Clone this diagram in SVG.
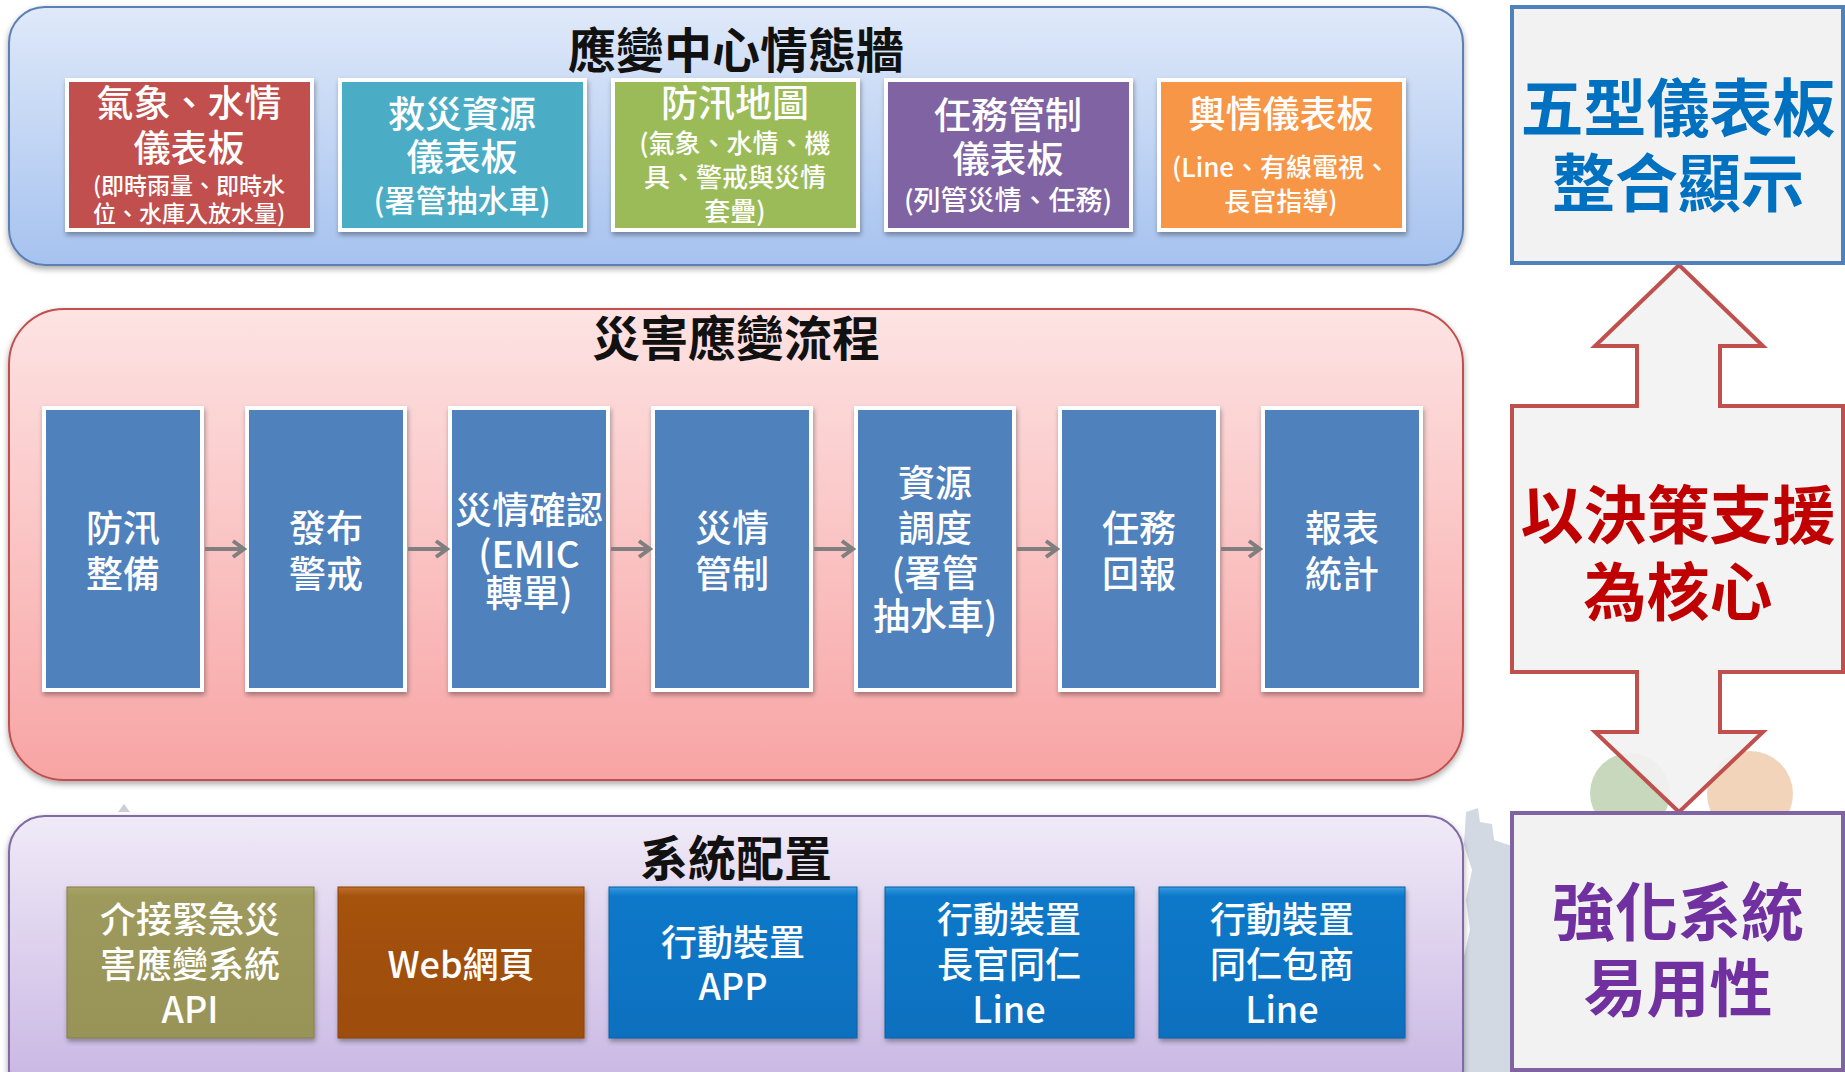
<svg xmlns="http://www.w3.org/2000/svg" width="1845" height="1072" viewBox="0 0 1845 1072">
<defs>
<style>
text{font-family:"Noto Sans CJK TC","Noto Sans CJK SC",sans-serif;text-anchor:middle;dominant-baseline:central}
.h{font-size:48px;font-weight:bold;fill:#111}
.w{fill:#fff;font-weight:500}
.big{font-size:37px}
.flow{font-size:37px;fill:#fff;font-weight:500}
.sys{font-size:36px;fill:#fff;font-weight:500}
.side{font-size:63px;font-weight:bold}
.fbox{fill:#4f81bd;stroke:#fff;stroke-width:4}
.tbox{stroke:#fff;stroke-width:4}
.conn{stroke:#7f7f7f;stroke-width:4;fill:none}
</style>
<linearGradient id="gBlue" x1="0" y1="0" x2="0" y2="1"><stop offset="0" stop-color="#dfe9f9"/><stop offset="1" stop-color="#a6c2ef"/></linearGradient>
<linearGradient id="gPink" x1="0" y1="0" x2="0" y2="1"><stop offset="0" stop-color="#fde3e3"/><stop offset="1" stop-color="#f8a4a4"/></linearGradient>
<linearGradient id="gPurp" x1="0" y1="0" x2="0" y2="1"><stop offset="0" stop-color="#f0eaf7"/><stop offset="1" stop-color="#c6b3e2"/></linearGradient>
<linearGradient id="gOlive" x1="0" y1="0" x2="0" y2="1"><stop offset="0" stop-color="#a9a469"/><stop offset="0.06" stop-color="#9e9a5c"/><stop offset="1" stop-color="#989358"/></linearGradient>
<linearGradient id="gBrown" x1="0" y1="0" x2="0" y2="1"><stop offset="0" stop-color="#c0702c"/><stop offset="0.06" stop-color="#a5520e"/><stop offset="1" stop-color="#9d4d0c"/></linearGradient>
<linearGradient id="gSysBlue" x1="0" y1="0" x2="0" y2="1"><stop offset="0" stop-color="#3a9ae0"/><stop offset="0.06" stop-color="#0b78c9"/><stop offset="1" stop-color="#0a70bf"/></linearGradient>
<filter id="sh" x="-5%" y="-5%" width="110%" height="115%"><feDropShadow dx="0" dy="3" stdDeviation="3" flood-color="#000" flood-opacity="0.35"/></filter>
<filter id="bsh" x="-5%" y="-5%" width="110%" height="115%"><feDropShadow dx="1" dy="3" stdDeviation="2.5" flood-color="#000" flood-opacity="0.35"/></filter>
<marker id="arr" markerUnits="userSpaceOnUse" markerWidth="18" markerHeight="22" refX="15" refY="11" orient="auto"><path d="M4,3 L15,11 L4,19" fill="none" stroke="#7f7f7f" stroke-width="4"/></marker>
</defs>
<rect width="1845" height="1072" fill="#fff"/>

<!-- background decorations -->
<g id="decor">
<path d="M1466,812 L1478,808 L1480,822 L1492,824 L1494,840 L1512,846 L1512,1072 L1463,1072 L1463,960 L1470,930 L1466,900 L1472,870 L1464,845 Z" fill="#d3d9e3"/>
<path d="M118,812 L124,804 L130,812 Z" fill="#c9ced9"/>
<circle cx="1630" cy="793" r="40" fill="#c2d4b6" opacity="0.9"/>
<circle cx="1750" cy="794" r="43" fill="#f1cfb2" opacity="0.9"/>
</g>

<!-- Layer 1 -->
<g id="panel-wall">
<rect x="9" y="7" width="1454" height="258" rx="36" fill="url(#gBlue)" stroke="#5b7fb5" stroke-width="2" filter="url(#sh)"/>
<text class="h" x="736" y="47">應變中心情態牆</text>
</g>
<g id="dash-weather">
<rect class="tbox" x="67" y="80" width="245" height="150" fill="#c0504d" filter="url(#bsh)"/>
<text class="w big" x="189" y="101">氣象、水情</text>
<text class="w big" x="189" y="146">儀表板</text>
<text class="w" x="189" y="184" font-size="23">(即時雨量、即時水</text>
<text class="w" x="189" y="212" font-size="23">位、水庫入放水量)</text>
</g>
<g id="dash-resource">
<rect class="tbox" x="340" y="80" width="245" height="150" fill="#4bacc6" filter="url(#bsh)"/>
<text class="w big" x="462" y="112">救災資源</text>
<text class="w big" x="462" y="155">儀表板</text>
<text class="w" x="462" y="198" font-size="31">(署管抽水車)</text>
</g>
<g id="dash-map">
<rect class="tbox" x="613" y="80" width="245" height="150" fill="#9bbb59" filter="url(#bsh)"/>
<text class="w big" x="735" y="101">防汛地圖</text>
<text class="w" x="735" y="141" font-size="26">(氣象、水情、機</text>
<text class="w" x="735" y="175" font-size="26">具、警戒與災情</text>
<text class="w" x="735" y="209" font-size="26">套疊)</text>
</g>
<g id="dash-task">
<rect class="tbox" x="886" y="80" width="245" height="150" fill="#8064a2" filter="url(#bsh)"/>
<text class="w big" x="1008" y="113">任務管制</text>
<text class="w big" x="1008" y="157">儀表板</text>
<text class="w" x="1008" y="198" font-size="27">(列管災情、任務)</text>
</g>
<g id="dash-opinion">
<rect class="tbox" x="1159" y="80" width="245" height="150" fill="#f79646" filter="url(#bsh)"/>
<text class="w big" x="1281" y="112">輿情儀表板</text>
<text class="w" x="1281" y="165" font-size="26">(Line、有線電視、</text>
<text class="w" x="1281" y="199" font-size="26">長官指導)</text>
</g>

<!-- Layer 2 -->
<g id="panel-flow">
<rect x="9" y="309" width="1454" height="471" rx="55" fill="url(#gPink)" stroke="#c0504d" stroke-width="2" filter="url(#sh)"/>
<text class="h" x="736" y="335">災害應變流程</text>
</g>
<g id="flow-1"><rect class="fbox" x="44" y="408" width="158" height="282" filter="url(#bsh)"/><text class="flow" x="123" y="526">防汛</text><text class="flow" x="123" y="572">整備</text></g>
<g id="flow-2"><rect class="fbox" x="247" y="408" width="158" height="282" filter="url(#bsh)"/><text class="flow" x="326" y="526">發布</text><text class="flow" x="326" y="572">警戒</text></g>
<g id="flow-3"><rect class="fbox" x="450" y="408" width="158" height="282" filter="url(#bsh)"/><text class="flow" x="529" y="508" font-size="36">災情確認</text><text class="flow" x="529" y="552">(EMIC</text><text class="flow" x="529" y="591">轉單)</text></g>
<g id="flow-4"><rect class="fbox" x="653" y="408" width="158" height="282" filter="url(#bsh)"/><text class="flow" x="732" y="526">災情</text><text class="flow" x="732" y="572">管制</text></g>
<g id="flow-5"><rect class="fbox" x="856" y="408" width="158" height="282" filter="url(#bsh)"/><text class="flow" x="935" y="481">資源</text><text class="flow" x="935" y="526">調度</text><text class="flow" x="935" y="571">(署管</text><text class="flow" x="935" y="614">抽水車)</text></g>
<g id="flow-6"><rect class="fbox" x="1060" y="408" width="158" height="282" filter="url(#bsh)"/><text class="flow" x="1139" y="526">任務</text><text class="flow" x="1139" y="572">回報</text></g>
<g id="flow-7"><rect class="fbox" x="1263" y="408" width="158" height="282" filter="url(#bsh)"/><text class="flow" x="1342" y="526">報表</text><text class="flow" x="1342" y="572">統計</text></g>

<g id="connectors">
<path class="conn" d="M205,549 H244" marker-end="url(#arr)"/>
<path class="conn" d="M408,549 H447" marker-end="url(#arr)"/>
<path class="conn" d="M611,549 H650" marker-end="url(#arr)"/>
<path class="conn" d="M814,549 H853" marker-end="url(#arr)"/>
<path class="conn" d="M1017,549 H1057" marker-end="url(#arr)"/>
<path class="conn" d="M1221,549 H1260" marker-end="url(#arr)"/>
</g>

<!-- Layer 3 -->
<g id="panel-sys">
<rect x="9" y="816" width="1454" height="290" rx="36" fill="url(#gPurp)" stroke="#7f6aa6" stroke-width="2" filter="url(#sh)"/>
<text class="h" x="736" y="855">系統配置</text>
</g>
<g id="sys-api"><rect x="67" y="887" width="247" height="151" fill="url(#gOlive)" stroke="#857f48" stroke-width="1" filter="url(#bsh)"/><text class="sys" x="190" y="917">介接緊急災</text><text class="sys" x="190" y="962">害應變系統</text><text class="sys" x="190" y="1007">API</text></g>
<g id="sys-web"><rect x="338" y="887" width="246" height="151" fill="url(#gBrown)" stroke="#8a440a" stroke-width="1" filter="url(#bsh)"/><text class="sys" x="461" y="962">Web網頁</text></g>
<g id="sys-app"><rect x="609" y="887" width="248" height="151" fill="url(#gSysBlue)" stroke="#0860a6" stroke-width="1" filter="url(#bsh)"/><text class="sys" x="733" y="940">行動裝置</text><text class="sys" x="733" y="984">APP</text></g>
<g id="sys-line1"><rect x="885" y="887" width="249" height="151" fill="url(#gSysBlue)" stroke="#0860a6" stroke-width="1" filter="url(#bsh)"/><text class="sys" x="1009" y="917">行動裝置</text><text class="sys" x="1009" y="962">長官同仁</text><text class="sys" x="1009" y="1007">Line</text></g>
<g id="sys-line2"><rect x="1159" y="887" width="246" height="151" fill="url(#gSysBlue)" stroke="#0860a6" stroke-width="1" filter="url(#bsh)"/><text class="sys" x="1282" y="917">行動裝置</text><text class="sys" x="1282" y="962">同仁包商</text><text class="sys" x="1282" y="1007">Line</text></g>

<!-- Right column -->
<g id="core-arrow">
<path d="M1679,265 L1763,346 L1720,346 L1720,406 L1843,406 L1843,672 L1720,672 L1720,732 L1763,732 L1679,812 L1595,732 L1637,732 L1637,672 L1512,672 L1512,406 L1637,406 L1637,346 L1595,346 Z" fill="#f2f2f2" fill-opacity="0.92" stroke="#c0504d" stroke-width="4" stroke-linejoin="miter"/>
<text class="side" x="1678" y="510" fill="#c00000">以決策支援</text>
<text class="side" x="1678" y="587" fill="#c00000">為核心</text>
</g>
<g id="box-dashboard">
<rect x="1512" y="7" width="331" height="256" fill="#f2f2f2" stroke="#4f81bd" stroke-width="4"/>
<text class="side" x="1678" y="103" fill="#0070c0">五型儀表板</text>
<text class="side" x="1678" y="178" fill="#0070c0">整合顯示</text>
</g>
<g id="box-usability">
<rect x="1512" y="813" width="331" height="257" fill="#f2f2f2" stroke="#8064a2" stroke-width="4"/>
<text class="side" x="1678" y="907" fill="#7030a0">強化系統</text>
<text class="side" x="1678" y="983" fill="#7030a0">易用性</text>
</g>
</svg>
